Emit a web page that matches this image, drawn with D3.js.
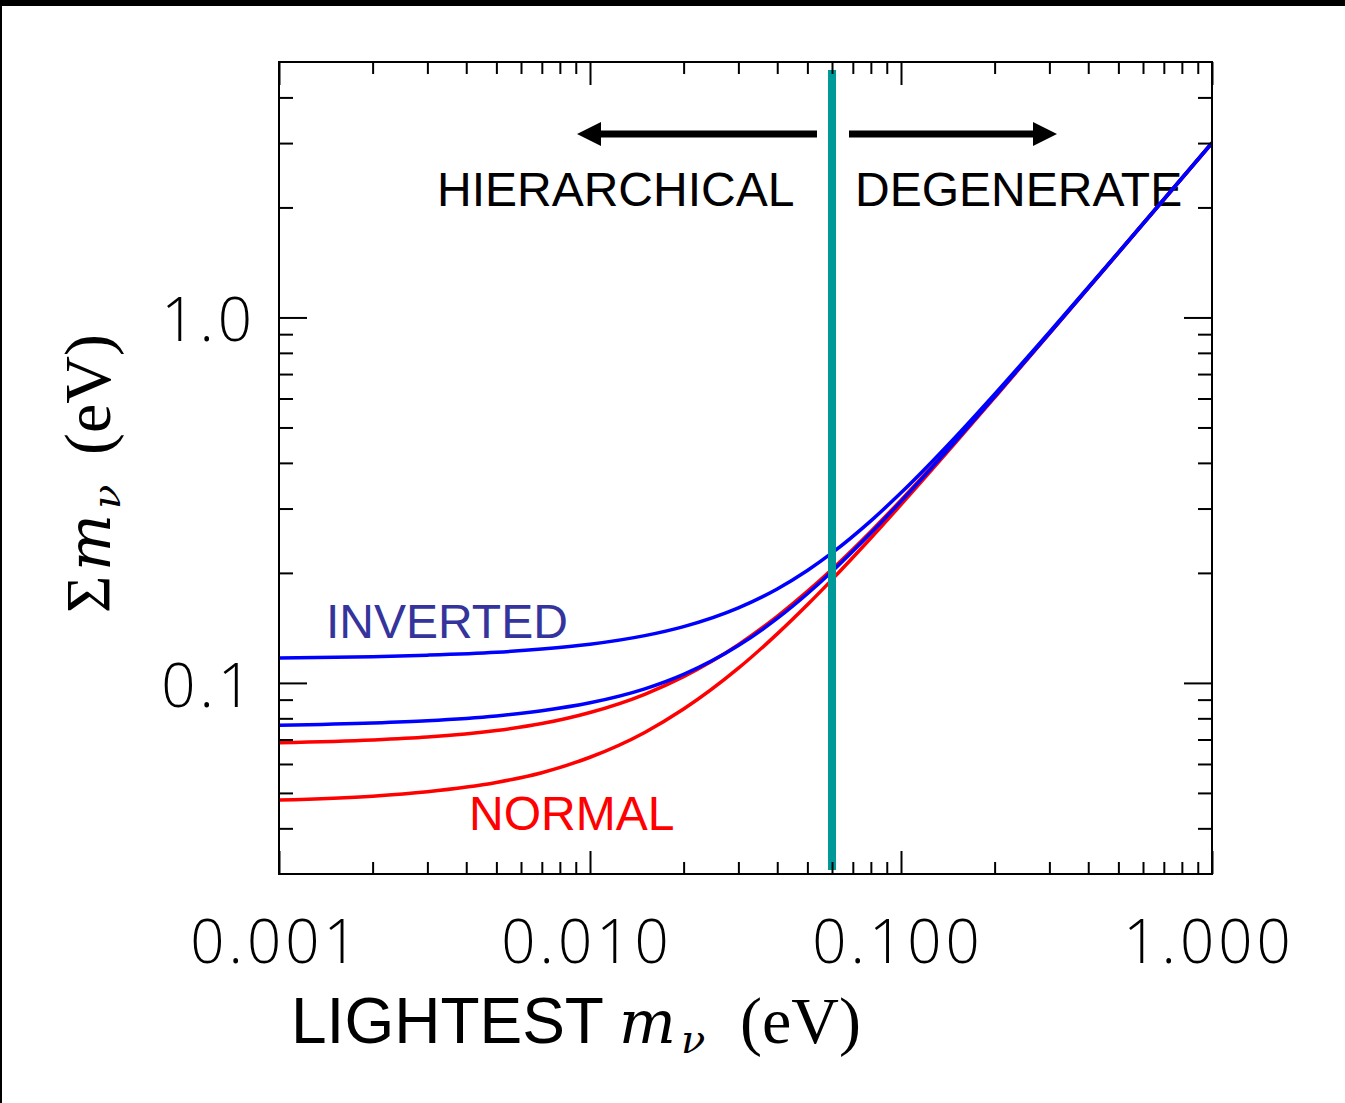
<!DOCTYPE html>
<html>
<head>
<meta charset="utf-8">
<script src="https://cdn.jsdelivr.net/npm/d3@7"></script>
<style>
  html, body { margin: 0; padding: 0; background: #fff; }
  svg { display: block; }
</style>
</head>
<body>
<script>
// Lightest neutrino mass (eV) and the summed mass (eV) for each ordering band
const massLightest = [0.001, 0.002, 0.003, 0.005, 0.007, 0.01, 0.015, 0.02, 0.03, 0.04, 0.05, 0.06, 0.08, 0.1, 0.15, 0.2, 0.3, 0.5, 1.0];
const normalLow    = [0.0478, 0.0490, 0.0504, 0.0534, 0.0568, 0.0626, 0.0732, 0.0848, 0.1097, 0.1362, 0.1636, 0.1917, 0.2491, 0.3074, 0.4550, 0.6038, 0.9025, 1.5015, 3.0008];
const normalHigh   = [0.0686, 0.0698, 0.0711, 0.0741, 0.0774, 0.0830, 0.0931, 0.1040, 0.1273, 0.1521, 0.1780, 0.2047, 0.2598, 0.3164, 0.4614, 0.6087, 0.9059, 1.5035, 3.0018];
const invertedLow  = [0.0766, 0.0777, 0.0788, 0.0812, 0.0839, 0.0882, 0.0963, 0.1055, 0.1265, 0.1501, 0.1754, 0.2018, 0.2570, 0.3138, 0.4594, 0.6071, 0.9047, 1.5029, 3.0014];
const invertedHigh = [0.1169, 0.1180, 0.1191, 0.1213, 0.1238, 0.1276, 0.1347, 0.1426, 0.1605, 0.1808, 0.2031, 0.2268, 0.2776, 0.3312, 0.4716, 0.6165, 0.9111, 1.5067, 3.0034];

// Boundary between hierarchical and degenerate regimes (eV)
const regimeBoundary = 0.06;

// Axis ticks
const xMajorTicks = [0.001, 0.01, 0.1, 1];
const xTickLabels = ["0.001", "0.010", "0.100", "1.000"];
const yMajorTicks = [0.1, 1];
const yTickLabels = ["0.1", "1.0"];

const W = 1345, H = 1103;
const plot = { left: 279, right: 1212, top: 62, bottom: 874 };

const svg = d3.select("body").append("svg").attr("width", W).attr("height", H);
svg.append("rect").attr("width", W).attr("height", H).attr("fill", "#fff");

// frame edges of the figure
svg.append("rect").attr("x", 0).attr("y", 0).attr("width", W).attr("height", 6).attr("fill", "#000");
svg.append("rect").attr("x", 0).attr("y", 0).attr("width", 2).attr("height", H).attr("fill", "#000");

const x = d3.scaleLog().domain([0.001, 1]).range([plot.left, plot.right]);
const y = d3.scaleLog().domain([0.03, 5]).range([plot.bottom, plot.top]);

// minor ticks: 2..9 within each decade
function minorTicks(lo, hi) {
  const out = [];
  for (let e = Math.floor(Math.log10(lo)); e <= Math.ceil(Math.log10(hi)); e++) {
    for (let k = 2; k <= 9; k++) {
      const v = k * Math.pow(10, e);
      if (v > lo * 1.0001 && v < hi * 0.9999) out.push(v);
    }
  }
  return out;
}
const xMinor = minorTicks(0.001, 1);
const yMinor = minorTicks(0.03, 5);

const sans = "'Liberation Sans', Arial, Helvetica, sans-serif";
const serif = "'Liberation Serif', 'Times New Roman', serif";
const mathItalic = "'DejaVu Serif', 'Liberation Serif', serif";
const tickFont = "'Open Sans', 'Liberation Sans', sans-serif";

// Region labels and arrows
const g = svg.append("g");
g.append("text").attr("x", 437).attr("y", 206).attr("font-family", sans).attr("font-size", 48)
  .attr("fill", "#000").text("HIERARCHICAL");
g.append("text").attr("x", 855).attr("y", 206).attr("font-family", sans).attr("font-size", 48)
  .attr("fill", "#000").text("DEGENERATE");
g.append("text").attr("x", 326).attr("y", 638).attr("font-family", sans).attr("font-size", 48)
  .attr("fill", "#34349c").text("INVERTED");
g.append("text").attr("x", 469).attr("y", 830).attr("font-family", sans).attr("font-size", 48)
  .attr("fill", "#ff0000").text("NORMAL");

function arrow(x0, x1, yc) {
  const dir = Math.sign(x1 - x0);
  const headLen = 24, headHalf = 12, shaftHalf = 3.5;
  const xb = x1 - dir * headLen;
  const pts = [
    [x0, yc - shaftHalf], [xb, yc - shaftHalf], [xb, yc - headHalf], [x1, yc],
    [xb, yc + headHalf], [xb, yc + shaftHalf], [x0, yc + shaftHalf]
  ];
  g.append("path").attr("d", "M" + pts.map(p => p.join(",")).join("L") + "Z").attr("fill", "#000");
}
arrow(817, 577, 134);
arrow(849, 1057, 134);

// Curves
const line = d3.line()
  .x((d, i) => x(massLightest[i]))
  .y(d => y(d))
  .curve(d3.curveMonotoneX);

const curves = [
  { values: normalLow, color: "#ff0000" },
  { values: normalHigh, color: "#ff0000" },
  { values: invertedLow, color: "#0000ff" },
  { values: invertedHigh, color: "#0000ff" }
];
svg.append("defs").append("clipPath").attr("id", "plotClip")
  .append("rect").attr("x", plot.left).attr("y", plot.top)
  .attr("width", plot.right - plot.left).attr("height", plot.bottom - plot.top);
const cg = svg.append("g").attr("clip-path", "url(#plotClip)");
curves.forEach(c => {
  cg.append("path").attr("d", line(c.values)).attr("fill", "none")
    .attr("stroke", c.color).attr("stroke-width", 3.5).attr("stroke-linejoin", "round");
});

// Regime boundary
svg.append("line")
  .attr("x1", x(regimeBoundary)).attr("x2", x(regimeBoundary))
  .attr("y1", 70).attr("y2", 870)
  .attr("stroke", "#009999").attr("stroke-width", 8);

// Axes (ticks on all four sides, pointing inward)
function axisTicks(axisGen, vals, size) {
  return axisGen.tickValues(vals).tickSize(size).tickSizeOuter(0).tickFormat("");
}
const axes = svg.append("g");
function drawAxis(gen, transform) {
  const a = axes.append("g").attr("transform", transform).call(gen);
  a.select(".domain").remove();
  a.selectAll(".tick line").attr("stroke", "#000").attr("stroke-width", 2);
}
// bottom
drawAxis(axisTicks(d3.axisTop(x), xMajorTicks, 23), `translate(0,${plot.bottom})`);
drawAxis(axisTicks(d3.axisTop(x), xMinor, 12), `translate(0,${plot.bottom})`);
// top
drawAxis(axisTicks(d3.axisBottom(x), xMajorTicks, 23), `translate(0,${plot.top})`);
drawAxis(axisTicks(d3.axisBottom(x), xMinor, 12), `translate(0,${plot.top})`);
// left
drawAxis(axisTicks(d3.axisRight(y), yMajorTicks, 28), `translate(${plot.left},0)`);
drawAxis(axisTicks(d3.axisRight(y), yMinor, 14), `translate(${plot.left},0)`);
// right
drawAxis(axisTicks(d3.axisLeft(y), yMajorTicks, 28), `translate(${plot.right},0)`);
drawAxis(axisTicks(d3.axisLeft(y), yMinor, 14), `translate(${plot.right},0)`);

svg.append("rect").attr("x", plot.left).attr("y", plot.top)
  .attr("width", plot.right - plot.left).attr("height", plot.bottom - plot.top)
  .attr("fill", "none").attr("stroke", "#000").attr("stroke-width", 2);

// Tick labels
xMajorTicks.forEach((v, i) => {
  svg.append("text").attr("x", x(v) - 3).attr("y", 963).attr("text-anchor", "middle")
    .attr("font-family", tickFont).attr("font-weight", 300).attr("font-size", 60)
    .attr("letter-spacing", 4).attr("fill", "#000").text(xTickLabels[i]);
});
yMajorTicks.forEach((v, i) => {
  svg.append("text").attr("x", 256).attr("y", y(v) + 24).attr("text-anchor", "end")
    .attr("font-family", tickFont).attr("font-weight", 300).attr("font-size", 60)
    .attr("letter-spacing", 4).attr("fill", "#000").text(yTickLabels[i]);
});

// X axis title
const xt = svg.append("text").attr("y", 1043).attr("fill", "#000");
xt.append("tspan").attr("x", 291).attr("font-family", sans).attr("font-size", 64).text("LIGHTEST");
xt.append("tspan").attr("x", 619).attr("font-family", mathItalic).attr("font-style", "italic").attr("font-size", 60).text("m");
xt.append("tspan").attr("x", 681).attr("dy", 10).attr("font-family", mathItalic).attr("font-style", "italic").attr("font-size", 40).text("ν");
xt.append("tspan").attr("x", 740).attr("dy", -10).attr("font-family", serif).attr("font-size", 66).text("(eV)");

// Y axis title (rotated)
const yt = svg.append("text").attr("transform", "translate(110,613) rotate(-90)").attr("fill", "#000");
yt.append("tspan").attr("x", 0).attr("y", 0).attr("font-family", serif).attr("font-size", 64).text("Σ");
yt.append("tspan").attr("x", 42).attr("y", 0).attr("font-family", mathItalic).attr("font-style", "italic").attr("font-size", 60).text("m");
yt.append("tspan").attr("x", 104).attr("y", 10).attr("font-family", mathItalic).attr("font-style", "italic").attr("font-size", 40).text("ν");
yt.append("tspan").attr("x", 158).attr("y", 0).attr("font-family", serif).attr("font-size", 66).text("(eV)");
</script>
</body>
</html>
